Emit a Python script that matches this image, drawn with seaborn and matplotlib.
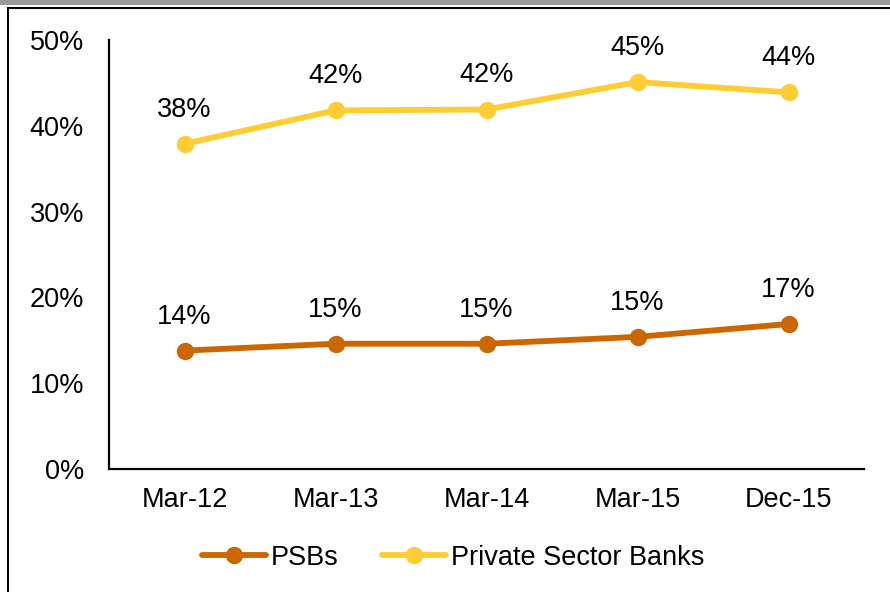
import matplotlib
matplotlib.use("Agg")
import matplotlib.pyplot as plt
import seaborn as sns
import pandas as pd
from matplotlib.lines import Line2D
from matplotlib.patches import Rectangle

categories = ["Mar-12", "Mar-13", "Mar-14", "Mar-15", "Dec-15"]
psb_values = [13.8, 14.6, 14.6, 15.4, 16.9]
private_values = [37.9, 41.8, 41.9, 45.1, 43.9]
psb_labels = ["14%", "15%", "15%", "15%", "17%"]
private_labels = ["38%", "42%", "42%", "45%", "44%"]
series_names = ["PSBs", "Private Sector Banks"]
y_ticks = [0, 10, 20, 30, 40, 50]

sns.set_theme(style="white")
plt.rcParams["font.family"] = ["Liberation Sans", "DejaVu Sans"]
plt.rcParams["text.color"] = "black"

df = pd.DataFrame({
    "Period": categories * 2,
    "Value": psb_values + private_values,
    "Series": [series_names[0]] * len(categories) + [series_names[1]] * len(categories),
})

FS = 19.5
fig = plt.figure(figsize=(8.9, 5.92), dpi=100)
ax = fig.add_axes([0.1225, 0.2078, 0.8483, 0.7246])

palette = {series_names[0]: "#CC6600", series_names[1]: "#FFCC33"}
sns.lineplot(data=df, x="Period", y="Value", hue="Series", palette=palette,
             marker="o", markersize=12.5, markeredgewidth=0, linewidth=4.2,
             ax=ax, legend=True, sort=False)

for i, (v, lab) in enumerate(zip(psb_values, psb_labels)):
    ax.annotate(lab, (i, v), xytext=(0, 24.5), textcoords="offset points",
                ha="center", va="center", fontsize=FS, color="black")
for i, (v, lab) in enumerate(zip(private_values, private_labels)):
    ax.annotate(lab, (i, v), xytext=(0, 24.5), textcoords="offset points",
                ha="center", va="center", fontsize=FS, color="black")

ax.set_xlim(-0.5, len(categories) - 0.5)
ax.set_ylim(0, 50)
ax.set_yticks(y_ticks)
ax.set_yticklabels([f"{t}%" for t in y_ticks])
ax.set_xlabel("")
ax.set_ylabel("")
ax.tick_params(axis="both", length=0, labelsize=FS, colors="black")
ax.tick_params(axis="y", pad=18)
ax.tick_params(axis="x", pad=13)
for s in ["top", "right"]:
    ax.spines[s].set_visible(False)
for s in ["left", "bottom"]:
    ax.spines[s].set_color("black")
    ax.spines[s].set_linewidth(1.6)
ax.grid(False)

leg = ax.legend(loc="center", bbox_to_anchor=(0.456, -0.207), ncol=2, frameon=False,
                fontsize=FS, handlelength=2.35, handletextpad=0.2, columnspacing=1.6,
                borderaxespad=0)
for t in leg.get_texts():
    t.set_color("black")
for h in leg.legend_handles:
    h.set_linewidth(4.2)
    h.set_markersize(12.5)

# figure frame decorations
fig.add_artist(Rectangle((0, 1 - 5 / 592), 1, 5 / 592, transform=fig.transFigure,
                         facecolor="#999999", edgecolor="none"))
fig.add_artist(Line2D([8 / 890, 1], [1 - 7.5 / 592, 1 - 7.5 / 592], transform=fig.transFigure,
                      color="black", linewidth=1.5))
fig.add_artist(Line2D([8 / 890, 8 / 890], [0, 1 - 7.5 / 592], transform=fig.transFigure,
                      color="black", linewidth=1.5))

fig.savefig("out.png", dpi=100)
